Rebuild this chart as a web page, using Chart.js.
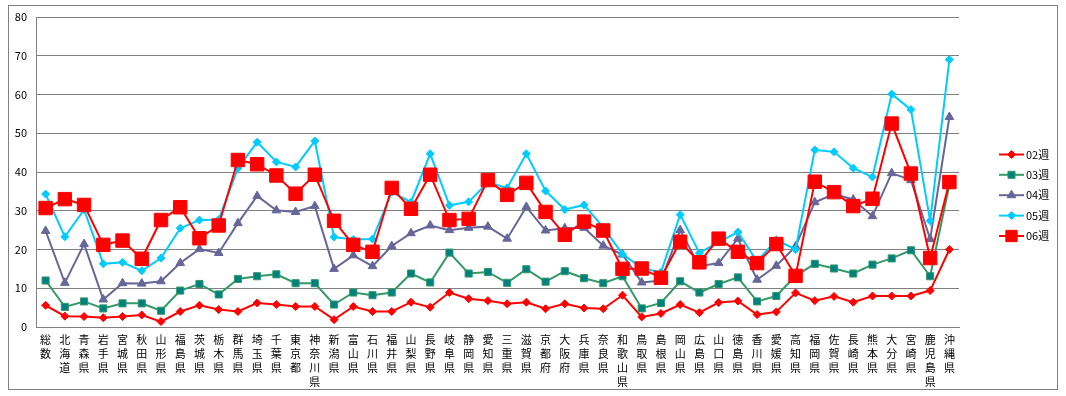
<!DOCTYPE html>
<html><head><meta charset="utf-8">
<script src="https://cdn.jsdelivr.net/npm/chart.js@4/dist/chart.umd.min.js"></script>
<style>
html,body{margin:0;padding:0;background:#fff;}
#wrap{position:relative;width:1066px;height:396px;}
#frame{position:absolute;left:8px;top:5px;width:1048px;height:383px;border:1px solid #808080;pointer-events:none;}
canvas{position:absolute;left:0;top:0;}
</style></head>
<body>
<div id="wrap"><canvas id="c" width="1066" height="396"></canvas><div id="frame"></div></div>
<script>
const categories = ["総数","北海道","青森県","岩手県","宮城県","秋田県","山形県","福島県","茨城県","栃木県","群馬県","埼玉県","千葉県","東京都","神奈川県","新潟県","富山県","石川県","福井県","山梨県","長野県","岐阜県","静岡県","愛知県","三重県","滋賀県","京都府","大阪府","兵庫県","奈良県","和歌山県","鳥取県","島根県","岡山県","広島県","山口県","徳島県","香川県","愛媛県","高知県","福岡県","佐賀県","長崎県","熊本県","大分県","宮崎県","鹿児島県","沖縄県"];
const seriesNames = ["02週","03週","04週","05週","06週"];
const w02 = [5.6,2.8,2.7,2.4,2.7,3.1,1.4,4.0,5.6,4.5,4.0,6.2,5.8,5.3,5.3,1.9,5.3,4.0,4.0,6.4,5.1,8.9,7.3,6.8,6.0,6.4,4.7,6.0,4.9,4.7,8.2,2.6,3.5,5.8,3.7,6.3,6.7,3.2,3.9,8.8,6.8,7.9,6.4,8.0,8.0,8.0,9.4,20.0];
const w03 = [12.0,5.2,6.6,4.8,6.1,6.1,4.2,9.4,11.1,8.4,12.4,13.1,13.6,11.3,11.3,5.8,8.9,8.2,8.9,13.8,11.5,19.2,13.8,14.2,11.4,14.9,11.7,14.4,12.6,11.3,13.1,4.8,6.2,11.8,8.9,11.1,12.8,6.6,8.0,13.2,16.3,15.1,13.8,16.1,17.7,19.8,13.1,36.7];
const w04 = [24.8,11.4,21.4,7.1,11.3,11.2,11.8,16.5,20.1,19.1,26.8,33.8,30.1,29.7,31.2,15.0,18.5,15.7,20.9,24.2,26.2,25.0,25.6,25.9,22.8,31.0,24.9,25.5,25.6,21.0,18.7,11.5,12.0,25.0,15.7,16.5,22.8,12.2,15.8,20.8,32.2,34.3,32.9,28.6,39.7,37.9,22.7,54.2];
const w05 = [34.3,23.3,30.3,16.3,16.7,14.5,17.8,25.5,27.6,27.7,41.0,47.7,42.6,41.3,48.0,23.2,22.6,22.7,34.8,32.2,44.7,31.4,32.3,37.3,35.9,44.7,35.1,30.3,31.5,25.7,18.8,15.2,14.1,29.0,19.1,21.9,24.5,16.9,22.5,20.0,45.7,45.2,41.0,38.7,60.1,56.1,27.4,69.0];
const w06 = [30.7,33.0,31.5,21.2,22.3,17.6,27.6,30.9,22.9,26.2,43.1,42.0,39.1,34.4,39.3,27.4,21.2,19.4,35.9,30.5,39.3,27.6,27.9,37.9,34.1,37.2,29.7,23.8,27.2,24.9,15.0,15.1,12.7,22.0,16.7,22.8,19.4,16.5,21.4,13.2,37.5,34.8,31.2,33.1,52.5,39.6,17.8,37.4];
const yTicks = [0,10,20,30,40,50,60,70,80];

const FONT = "'Noto Sans CJK JP', 'DejaVu Sans', sans-serif";
const styles = [
  {border:'#FF0000', fill:'#FF0000', pt:'rectRot', r:4, bw:1},
  {border:'#339966', fill:'#008080', pt:'rect', r:5, bw:1},
  {border:'#666699', fill:'#666699', pt:'triangle', r:5, bw:1},
  {border:'#00CCFF', fill:'#00CCFF', pt:'rectRot', r:4, bw:1},
  {border:'#FF0000', fill:'#FF0000', pt:'rect', r:9.5, bw:1}
];
const values = [w02,w03,w04,w05,w06];

const datasets = values.map((v,i)=>({
  label: seriesNames[i],
  data: v,
  borderColor: styles[i].border,
  backgroundColor: styles[i].fill,
  borderWidth: 2,
  pointStyle: styles[i].pt,
  pointRadius: styles[i].r,
  pointHoverRadius: styles[i].r,
  pointBackgroundColor: styles[i].fill,
  pointBorderColor: i===1 ? '#339966' : styles[i].fill,
  pointBorderWidth: styles[i].bw,
  tension: 0,
  fill: false,
  order: 5 - i
}));

const legendPlugin = {
  id: 'customLegend',
  afterDraw(chart) {
    const ctx = chart.ctx;
    ctx.save();
    const x0 = 999, x1 = 1024, tx = 1026;
    const rows = [154.5, 174.8, 195.2, 215.6, 236];
    chart.data.datasets.forEach((ds, i) => {
      const y = rows[i];
      ctx.strokeStyle = ds.borderColor;
      ctx.lineWidth = 2;
      ctx.beginPath(); ctx.moveTo(x0, y); ctx.lineTo(x1, y); ctx.stroke();
      const r = i===4 ? 8 : ds.pointRadius;
      Chart.helpers.drawPoint(ctx, {
        pointStyle: ds.pointStyle, radius: r, rotation: 0, borderWidth: 1
      }, (x0+x1)/2, y);
      ctx.fillStyle = ds.pointBackgroundColor;
      ctx.strokeStyle = ds.pointBorderColor;
      ctx.lineWidth = 1;
      ctx.beginPath();
      ctx.fillStyle = '#000';
      ctx.font = '11px ' + FONT;
      ctx.textBaseline = 'middle';
      ctx.textAlign = 'left';
      ctx.fillText(ds.label, tx, y);
    });
    ctx.restore();
  }
};

// drawPoint needs fill/stroke styles set before; wrap
const origDraw = Chart.helpers.drawPoint;

new Chart(document.getElementById('c'), {
  type: 'line',
  data: { labels: categories.map(s => s.split('')), datasets },
  options: {
    responsive: false,
    animation: false,
    events: [],
    layout: { padding: { left: 0, top: 17, right: 107, bottom: 0 } },
    plugins: { legend: { display: false }, tooltip: { enabled: false } },
    scales: {
      x: {
        type: 'category',
        offset: true,
        grid: { display: false, drawTicks: false },
        border: { display: true, color: '#808080', width: 1 },
        ticks: {
          autoSkip: false, maxRotation: 0, minRotation: 0, padding: 6,
          color: '#000', font: { family: FONT, size: 11, lineHeight: '14px' }
        },
        afterFit(s) { s.height = 69; }
      },
      y: {
        min: 0, max: 80,
        afterBuildTicks(s) { s.ticks = yTicks.map(v => ({ value: v })); },
        grid: { color: '#808080', lineWidth: 1, drawTicks: false },
        border: { display: true, color: '#808080', width: 1 },
        ticks: { padding: 9, color: '#000', font: { family: FONT, size: 11 } },
        afterFit(s) { s.width = 36; }
      }
    }
  },
  plugins: [{
    id: 'legendDraw',
    afterDraw(chart) {
      const ctx = chart.ctx;
      ctx.save();
      const x0 = 999, x1 = 1024, tx = 1026;
      const rows = [154.5, 174.8, 195.2, 215.6, 236];
      chart.data.datasets.forEach((ds, i) => {
        const y = rows[i];
        ctx.strokeStyle = ds.borderColor;
        ctx.lineWidth = 2;
        ctx.beginPath(); ctx.moveTo(x0, y); ctx.lineTo(x1, y); ctx.stroke();
        ctx.fillStyle = ds.pointBackgroundColor;
        ctx.strokeStyle = ds.pointBorderColor;
        ctx.lineWidth = 1;
        const r = i === 4 ? 8 : ds.pointRadius;
        Chart.helpers.drawPoint(ctx, { pointStyle: ds.pointStyle, radius: r, rotation: 0, borderWidth: 1 }, (x0 + x1) / 2, y);
        ctx.fillStyle = '#000';
        ctx.font = '11px ' + FONT;
        ctx.textBaseline = 'middle';
        ctx.textAlign = 'left';
        ctx.fillText(ds.label, tx, y);
      });
      ctx.restore();
    }
  }]
});
</script>
</body></html>
